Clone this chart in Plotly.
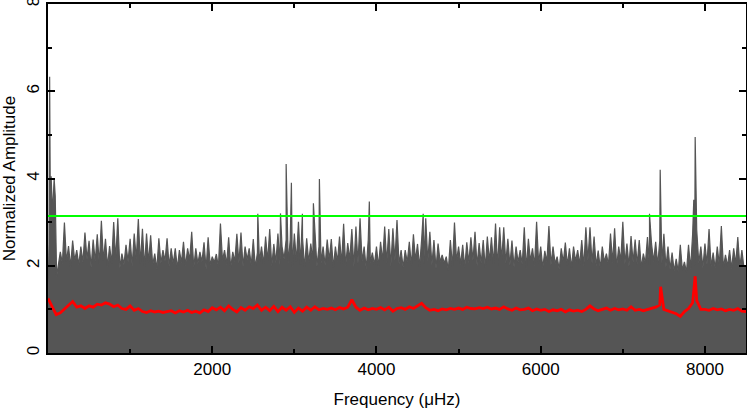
import plotly.graph_objects as go

# ---------------- data ----------------
# low-frequency edge of the spectrum
lowf_freq = [0, 12, 20, 28, 38, 55, 75, 88, 105]
lowf_amp = [1.20, 2.50, 6.33, 3.50, 4.05, 3.20, 4.00, 3.60, 1.75]

# spike tops of the noise spectrum every 50 muHz from 150 to 8450
grid_start = 150
grid_step = 50
peak_amp = [
    2.32, 2.99, 2.45, 2.58, 2.36, 2.44, 2.76, 2.57, 2.60, 2.72,
    3.03, 2.62, 2.45, 3.00, 3.09, 2.28, 2.48, 2.62, 2.74, 3.07,
    2.85, 2.74, 2.70, 2.28, 2.63, 2.36, 2.63, 2.40, 2.40, 2.36,
    2.55, 2.40, 2.78, 2.40, 2.32, 2.54, 2.65, 2.21, 2.27, 2.97,
    2.36, 2.65, 2.32, 2.73, 2.76, 2.44, 2.40, 2.61, 2.30, 2.44,
    2.67, 2.84, 2.50, 2.74, 2.44, 2.60, 2.60, 2.74, 3.01, 2.63,
    2.63, 2.51, 2.74, 2.44, 2.44, 2.60, 2.61, 2.44, 2.67, 2.96,
    2.52, 2.84, 2.90, 3.09, 2.44, 2.60, 2.30, 2.44, 2.55, 2.90,
    2.84, 2.86, 3.05, 2.36, 2.36, 2.55, 2.72, 2.50, 2.60, 3.09,
    2.78, 2.59, 2.51, 2.25, 2.21, 2.59, 2.99, 2.44, 2.48, 2.54,
    2.65, 2.78, 2.52, 2.59, 2.67, 2.65, 2.97, 2.88, 2.88, 2.62,
    2.58, 2.44, 2.36, 2.88, 2.62, 2.40, 3.01, 2.44, 2.34, 2.91,
    2.44, 2.21, 2.40, 2.53, 2.40, 2.44, 2.36, 2.59, 2.88, 2.88,
    2.67, 2.35, 2.44, 2.28, 2.74, 2.86, 2.44, 3.01, 2.51, 2.68,
    2.60, 2.59, 2.28, 2.66, 2.50, 2.55, 2.58, 2.73, 2.44, 2.30,
    2.16, 2.48, 2.09, 2.48, 2.72, 2.82, 2.44, 2.51, 2.84, 2.30,
    2.44, 2.91, 2.25, 2.36, 2.40, 2.66, 2.36,
]
# top of the solid noise body between the spikes (half-way between grid points)
trough_amp = [
    2.05, 2.10, 1.98, 2.12, 2.02, 2.08, 2.15, 1.96, 2.10, 2.04,
    2.12, 1.98, 2.06, 2.14, 1.95, 2.03, 2.10, 2.00, 2.16, 2.05,
    1.97, 2.08, 2.02, 1.92, 2.06, 2.11, 1.99, 2.04, 1.94, 2.07,
    2.00, 2.13, 1.96, 2.05, 2.09, 1.93, 2.02, 2.08, 1.97, 2.12,
    2.03, 1.95, 2.10, 2.06, 1.98, 2.14, 2.01, 1.96, 2.09, 2.04,
    2.11, 1.99, 2.07, 2.02, 2.15, 2.05, 1.97, 2.10, 2.03, 1.95,
    2.08, 2.12, 1.98, 2.06, 2.01, 2.13, 1.96, 2.09, 2.04, 2.00,
    2.14, 1.97, 2.05, 2.10, 1.93, 2.07, 2.02, 1.98, 2.11, 2.06,
    1.99, 2.12, 2.04, 1.96, 2.08, 2.01, 2.13, 1.97, 2.05, 2.10,
    2.02, 1.94, 2.09, 2.06, 1.90, 1.98, 2.11, 2.03, 1.96, 2.07,
    2.12, 2.00, 2.05, 1.95, 2.10, 2.04, 1.98, 2.13, 2.06, 2.01,
    1.97, 2.08, 2.03, 1.93, 2.11, 2.00, 2.06, 1.95, 2.09, 2.02,
    2.05, 1.92, 2.08, 2.01, 1.96, 2.10, 2.03, 1.98, 2.12, 2.06,
    2.00, 1.94, 2.09, 2.02, 2.07, 1.97, 2.11, 2.04, 1.99, 2.08,
    2.03, 1.96, 2.06, 2.00, 2.10, 2.02, 2.05, 1.97, 1.92, 1.88,
    1.86, 1.90, 1.85, 1.93, 2.00, 2.06, 1.95, 2.03, 1.98, 1.94,
    2.02, 1.96, 1.99, 1.93, 2.04, 1.97, 1.95,
]
end_freq = 8500
end_amp = 2.00

# strong individual peaks
strong_freq = [2555, 2831, 2900, 2964, 3098, 3232, 3305, 3913, 4569, 7325, 7455, 7864, 7881]
strong_amp = [3.19, 3.20, 4.33, 3.90, 3.19, 3.43, 3.99, 3.47, 3.19, 3.19, 4.20, 3.51, 4.95]

# smoothed mean amplitude (red), every 50 muHz from 0 to 8500
red_start = 0
red_step = 50
red_amp = [
    1.25, 1.05, 0.88, 0.92, 1.00, 1.10, 1.18, 1.05, 1.08, 1.02,
    1.08, 1.05, 1.12, 1.10, 1.15, 1.12, 1.06, 1.10, 1.02, 1.00,
    1.08, 0.98, 1.02, 0.95, 0.93, 0.97, 0.94, 0.96, 0.93, 0.95,
    0.97, 0.92, 0.97, 0.94, 0.98, 0.93, 0.96, 0.92, 0.99, 0.95,
    1.04, 0.99, 1.05, 0.97, 1.08, 1.00, 0.94, 1.04, 0.98, 1.06,
    1.02, 1.10, 0.98, 1.05, 0.97, 1.07, 0.95, 1.05, 0.98, 1.06,
    0.93, 1.03, 0.96, 1.05, 0.98, 1.06, 0.99, 1.02, 1.00, 1.03,
    0.99, 1.04, 1.01, 1.05, 1.22, 1.05, 0.98, 1.03, 0.99, 1.02,
    1.00, 1.04, 0.99, 1.05, 0.96, 1.02, 1.04, 1.00, 1.06, 1.02,
    1.08, 1.14, 1.04, 0.98, 1.00, 0.97, 1.01, 0.99, 1.02, 1.00,
    1.03, 1.00, 1.05, 1.02, 1.01, 1.04, 1.02, 1.05, 1.01, 1.03,
    1.00, 1.06, 1.01, 0.98, 1.03, 0.99, 1.00, 1.03, 0.97, 1.01,
    0.98, 1.00, 0.95, 0.99, 0.97, 1.00, 0.94, 0.99, 0.96, 0.98,
    0.95, 1.00, 1.08, 1.01, 0.97, 1.00, 1.03, 0.98, 1.02, 0.99,
    1.01, 0.98, 1.06, 0.98, 1.00, 0.97, 1.00, 1.02, 1.05, 1.10,
    1.00, 0.97, 0.94, 0.90, 0.84, 0.95, 1.02, 1.15, 1.20, 1.00,
    1.00, 0.98, 1.02, 0.99, 1.01, 0.97, 1.00, 0.98, 1.02, 0.96,
    0.95,
]
red_peak_freq = [7460, 7881]
red_peak_amp = [1.52, 1.76]

threshold = 3.14

x_ticks = [2000, 4000, 6000, 8000]
y_ticks = [0, 2, 4, 6, 8]

# ---------------- build traces ----------------
pts = list(zip(lowf_freq, lowf_amp))
for i, (p, t) in enumerate(zip(peak_amp, trough_amp)):
    f = grid_start + i * grid_step
    pts.append((f, p))
    pts.append((f + grid_step / 2, t))
pts.append((end_freq, end_amp))
pts += list(zip(strong_freq, strong_amp))
pts.sort(key=lambda q: q[0])
gx = [q[0] for q in pts]
gy = [q[1] for q in pts]

rpts = [(red_start + i * red_step, v) for i, v in enumerate(red_amp)]
rpts += list(zip(red_peak_freq, red_peak_amp))
rpts.sort(key=lambda q: q[0])
rx = [q[0] for q in rpts]
ry = [q[1] for q in rpts]

FONT = "Liberation Sans, Arial, sans-serif"

fig = go.Figure()
fig.add_trace(go.Scatter(x=gx, y=gy, mode="lines", fill="tozeroy",
                         fillcolor="#555555",
                         line=dict(color="#555555", width=1.2),
                         hoverinfo="skip"))
fig.add_trace(go.Scatter(x=rx, y=ry, mode="lines",
                         line=dict(color="#ff0000", width=2.8)))
fig.add_trace(go.Scatter(x=[0, 8500], y=[threshold, threshold], mode="lines",
                         line=dict(color="#00ff00", width=2)))

axis_common = dict(
    showline=True, linecolor="black", linewidth=2, mirror="ticks",
    ticks="inside", ticklen=7, tickwidth=1.5, tickcolor="black",
    showgrid=False, zeroline=False, automargin=False,
    ticklabeloverflow="allow",
    tickfont=dict(family=FONT, size=17, color="black"),
)

fig.update_layout(
    width=747, height=411,
    margin=dict(l=48, r=1, t=4, b=58),
    plot_bgcolor="white", paper_bgcolor="white",
    showlegend=False,
    font=dict(family=FONT, color="black"),
    xaxis=dict(range=[0, 8500], tickvals=x_ticks,
               ticktext=[str(v) for v in x_ticks],
               minor=dict(ticks="inside", ticklen=4, tickwidth=1.5,
                          tickcolor="black", dtick=1000, tick0=0),
               title=dict(text="Frequency (μHz)",
                          font=dict(family=FONT, size=17), standoff=15),
               **axis_common),
    yaxis=dict(range=[0, 8], tickvals=y_ticks,
               ticktext=[str(v) for v in y_ticks], tickangle=-90,
               minor=dict(ticks="inside", ticklen=4, tickwidth=1.5,
                          tickcolor="black", dtick=1, tick0=0),
               title=dict(text="Normalized Amplitude",
                          font=dict(family=FONT, size=17), standoff=9),
               **axis_common),
)

fig.write_html("out.html",
               config={"displayModeBar": False},
               post_script="document.body.style.margin='0';document.body.style.padding='0';")
